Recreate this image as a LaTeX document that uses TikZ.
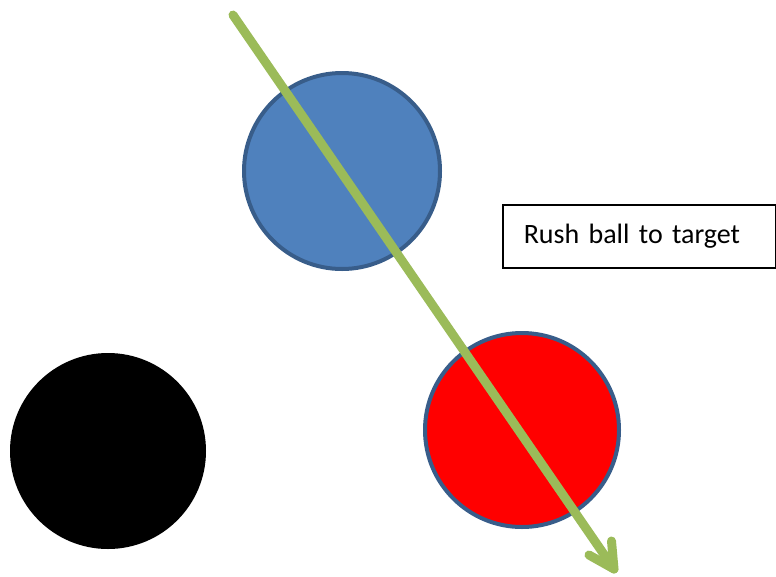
\documentclass[tikz,border=0pt]{standalone}
\usepackage{fontspec}
\setmainfont{Carlito}
\definecolor{ballblue}{HTML}{4F81BD}
\definecolor{ballrim}{HTML}{385D8A}
\definecolor{arrowgreen}{HTML}{9BBB59}
\begin{document}
\begin{tikzpicture}[x=1pt,y=-1pt,
  ball/.style={circle, minimum size=#1, inner sep=0pt, line width=4pt},
  label box/.style={draw=black, line width=1.5pt, fill=white, minimum height=63pt,
    text width=231pt, inner xsep=21pt, align=left, font=\fontsize{28}{34}\selectfont},
  shot/.style={draw=arrowgreen, line width=9pt, line cap=round, line join=round}]
\useasboundingbox (0,0) rectangle (776,576);
\node[ball=196pt, fill=black] (cue) at (108,451) {};
\node[ball=196pt, fill=ballblue, draw=ballrim] (blue) at (342,171) {};
\node[ball=194pt, fill=red, draw=ballrim] (target) at (522,430) {};
\node[label box, anchor=north west] (lbl) at (502,204) {Rush ball to target};
\coordinate (s) at (233,15);
\coordinate (tip) at (614,569);
\coordinate (barbA) at (611.5,541);
\coordinate (barbB) at (589,555);
\draw[shot] (s) -- (tip);
\draw[shot] (barbA) -- (tip) -- (barbB);
\end{tikzpicture}
\end{document}
